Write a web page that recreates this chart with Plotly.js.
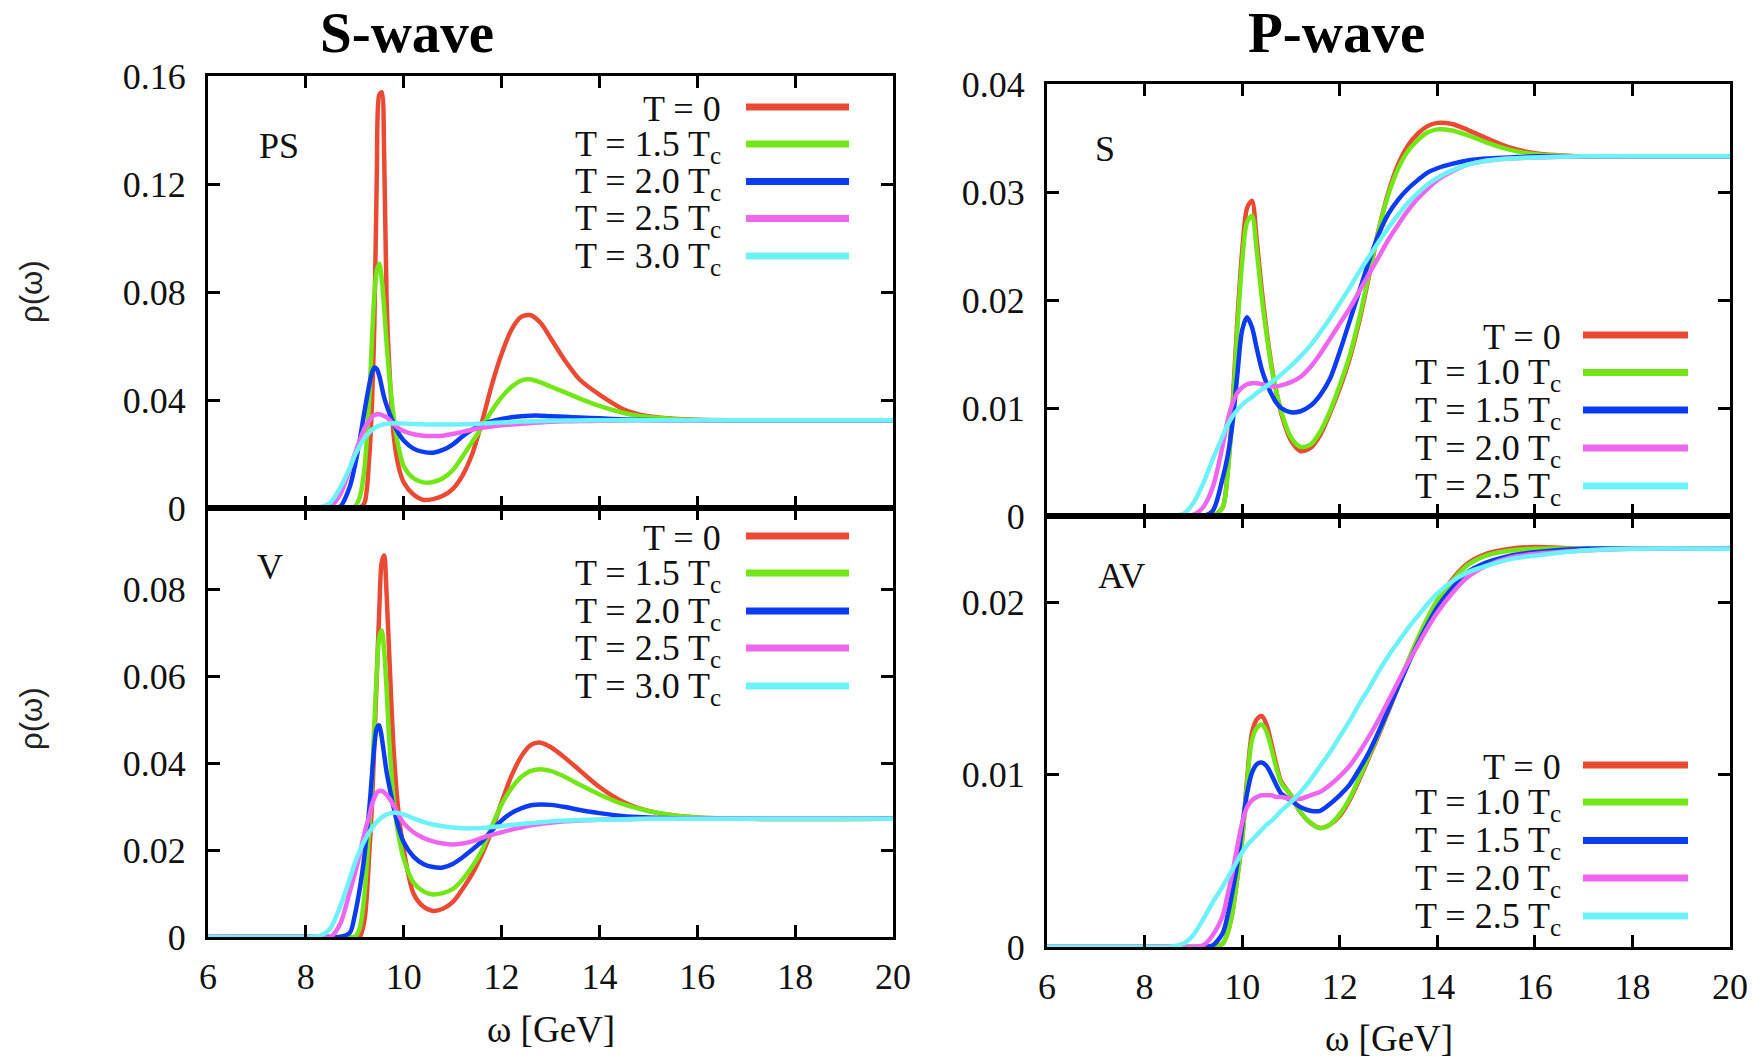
<!DOCTYPE html>
<html>
<head>
<meta charset="utf-8">
<script src="https://cdn.plot.ly/plotly-3.0.1.min.js"></script>
<style>html,body{margin:0;padding:0;background:#fff;}#chart{width:1762px;height:1061px;}</style>
</head>
<body>
<div id="chart"></div>
<script>
// ---------------- DATA ----------------
const omegaS = [6, 8, 8.3, 8.5, 8.7, 8.9, 9.0, 9.1, 9.2, 9.3, 9.35, 9.4, 9.45, 9.5, 9.55, 9.6, 9.65, 9.7, 9.8, 9.9, 10.0, 10.2, 10.4, 10.6, 10.8, 11.0, 11.2, 11.4, 11.6, 11.8, 12.0, 12.2, 12.4, 12.6, 12.8, 13.0, 13.3, 13.6, 14.0, 14.5, 15.0, 15.5, 16, 17, 20];
const omegaP = [6, 8, 8.5, 8.8, 9.0, 9.2, 9.4, 9.6, 9.7, 9.8, 9.9, 10.0, 10.1, 10.2, 10.3, 10.4, 10.5, 10.6, 10.7, 10.8, 11.0, 11.2, 11.4, 11.6, 11.8, 12.0, 12.2, 12.4, 12.6, 12.8, 13.0, 13.2, 13.4, 13.6, 13.8, 14.0, 14.3, 14.6, 15.0, 15.5, 16, 17, 18, 20];

// PS channel (S-wave)
const psT0  = [0,0,0,0,0,0, 0,0,0.002,0.02,0.038,0.068,0.123,0.153,0.154,0.131,0.077,0.054, 0.026,0.015,0.0095, 0.005,0.003,0.0033,0.0045,0.007, 0.012,0.02,0.032,0.0455,0.057, 0.066,0.0708,0.0714,0.0685,0.063, 0.0545,0.0475,0.042,0.0365,0.034, 0.0331,0.0327,0.0325,0.0325];
const psT15 = [0,0,0,0,0,0, 0.0005,0.004,0.015,0.042,0.062,0.079,0.088,0.0905,0.085,0.074,0.061,0.050, 0.033,0.022,0.0155, 0.011,0.0095,0.0096,0.011,0.014, 0.019,0.0245,0.030,0.036,0.041, 0.0448,0.0472,0.0476,0.0465,0.045, 0.0428,0.0405,0.0378,0.0352,0.0337, 0.033,0.0326,0.0325,0.0325];
const psT20 = [0,0,0,0,0.0005,0.008, 0.0155,0.025,0.036,0.046,0.050,0.052,0.0515,0.049,0.045,0.041,0.038,0.0355, 0.031,0.0275,0.025, 0.022,0.0208,0.0205,0.0215,0.0235, 0.0265,0.029,0.031,0.0322,0.033, 0.0336,0.034,0.0342,0.0342,0.034, 0.0338,0.0335,0.0332,0.0328,0.0326, 0.0325,0.0325,0.0325,0.0325];
const psT25 = [0,0,0,0.0005,0.005,0.0145, 0.020,0.025,0.0295,0.0325,0.0337,0.0344,0.0347,0.0347,0.0345,0.0341,0.0336,0.0328, 0.031,0.0295,0.0285, 0.0273,0.0268,0.0267,0.0268,0.0274, 0.0282,0.029,0.0297,0.0302,0.0306, 0.0309,0.0312,0.0315,0.0317,0.0319, 0.0321,0.0322,0.0323,0.0324,0.0325, 0.0325,0.0325,0.0325,0.0325];
const psT30 = [0,0,0.0003,0.002,0.0075,0.015, 0.0195,0.023,0.026,0.028,0.029,0.0296,0.0301,0.0305,0.0308,0.031,0.0312,0.0313, 0.0314,0.0314,0.0313, 0.0311,0.031,0.0309,0.0309,0.0309, 0.031,0.0311,0.0313,0.0315,0.0317, 0.0318,0.032,0.0321,0.0322,0.0323, 0.0324,0.0324,0.0325,0.0325,0.0325, 0.0325,0.0325,0.0325,0.0325];

// V channel (S-wave)
const vT0  = [0,0,0,0,0,0, 0,0,0.004,0.020,0.030,0.045,0.060,0.075,0.0862,0.0878,0.079,0.066, 0.042,0.028,0.020, 0.010,0.007,0.006,0.0065,0.008, 0.011,0.0145,0.019,0.0245,0.031, 0.037,0.0415,0.0442,0.0447,0.0437, 0.0412,0.0383,0.0345,0.031,0.029, 0.028,0.0275,0.0272,0.0272];
const vT15 = [0,0,0,0,0,0, 0,0.002,0.010,0.026,0.036,0.049,0.061,0.069,0.0705,0.066,0.057,0.046, 0.031,0.023,0.018, 0.0125,0.0105,0.0098,0.0101,0.011, 0.0132,0.0162,0.020,0.0255,0.0305, 0.0342,0.0368,0.0382,0.0386,0.0382, 0.0368,0.035,0.0328,0.0305,0.029, 0.028,0.0275,0.0272,0.0272];
const vT20 = [0,0,0,0,0,0.001, 0.005,0.011,0.019,0.030,0.037,0.044,0.048,0.0487,0.046,0.042,0.038,0.035, 0.0295,0.025,0.0218, 0.0185,0.0168,0.0161,0.016,0.0168, 0.0183,0.0201,0.022,0.0245,0.0268, 0.0285,0.0296,0.0303,0.0305,0.0304, 0.0299,0.0292,0.0285,0.0278,0.0275, 0.0273,0.0272,0.0272,0.0272];
const vT25 = [0,0,0,0,0.003,0.0105, 0.0145,0.019,0.024,0.028,0.0305,0.032,0.0332,0.0336,0.0336,0.0333,0.0327,0.032, 0.0302,0.028,0.0262, 0.0241,0.0228,0.022,0.0215,0.0213, 0.0215,0.022,0.0228,0.0235,0.0241, 0.0247,0.0252,0.0257,0.026,0.0263, 0.0266,0.0268,0.027,0.0271,0.0272, 0.0272,0.0272,0.0272,0.0272];
const vT30 = [0,0,0.0003,0.002,0.007,0.0135, 0.017,0.0198,0.0222,0.0242,0.025,0.0258,0.0265,0.027,0.0275,0.0279,0.0282,0.0284, 0.0286,0.0285,0.0282, 0.0273,0.0265,0.0259,0.0255,0.0252, 0.025,0.025,0.0251,0.0253,0.0255, 0.0258,0.026,0.0262,0.0264,0.0266, 0.0268,0.0269,0.027,0.0271,0.0272, 0.0272,0.0272,0.0272,0.0272];

// S channel (P-wave)
const sT0  = [0,0,0,0,0,0,0, 0.0008,0.004,0.010,0.018,0.0245, 0.0285,0.0292,0.0255,0.021,0.0172,0.014,0.0115,0.0095, 0.007,0.006,0.0063,0.0075,0.0095, 0.0118,0.0145,0.018,0.0222,0.0265, 0.030,0.0326,0.0343,0.0354,0.0361, 0.0364,0.0363,0.0358,0.035, 0.0341,0.0336,0.0333,0.0333,0.0333];
const sT10 = [0,0,0,0,0,0,0, 0.0008,0.0038,0.0095,0.0172,0.0235, 0.0272,0.0278,0.0245,0.0203,0.0168,0.0138,0.0116,0.0097, 0.0073,0.0064,0.0066,0.0078,0.0097, 0.0121,0.0148,0.0183,0.0224,0.0265, 0.0298,0.0322,0.0338,0.0348,0.0355, 0.0358,0.0357,0.0353,0.0346, 0.0339,0.0335,0.0333,0.0333,0.0333];
const sT15 = [0,0,0,0,0,0,0.0005, 0.0035,0.0055,0.0085,0.013,0.0172, 0.0184,0.0175,0.0155,0.0136,0.0123,0.0113,0.0105,0.010, 0.0096,0.0097,0.0102,0.0112,0.0127, 0.0152,0.018,0.0208,0.0236,0.0261, 0.028,0.0293,0.0303,0.0311,0.0318, 0.0322,0.0326,0.0329,0.0331, 0.0332,0.0333,0.0333,0.0333,0.0333];
const sT20 = [0,0,0,0,0.0001,0.0008,0.0027, 0.0065,0.0088,0.0104,0.0114,0.0119, 0.0122,0.0123,0.0123,0.0122,0.0121,0.012,0.012,0.0121, 0.0124,0.0129,0.0138,0.015,0.0164, 0.0178,0.0192,0.0208,0.0224,0.024, 0.0256,0.027,0.0283,0.0294,0.0303, 0.0311,0.0319,0.0325,0.0329, 0.0331,0.0332,0.0333,0.0333,0.0333];
const sT25 = [0,0,0,0.0002,0.0012,0.003,0.0053, 0.0074,0.0084,0.0092,0.0098,0.0103, 0.0107,0.011,0.0114,0.0117,0.012,0.0124,0.0127,0.0131, 0.0139,0.0148,0.0158,0.017,0.0183, 0.0197,0.0211,0.0226,0.024,0.0254, 0.0267,0.0279,0.029,0.0299,0.0307, 0.0313,0.032,0.0325,0.0329, 0.0331,0.0332,0.0333,0.0333,0.0333];

// AV channel (P-wave)
const avT0  = [0,0,0,0,0,0,0, 0.0002,0.0008,0.002,0.004,0.0062, 0.0097,0.0124,0.0132,0.0134,0.0129,0.0118,0.0106,0.0096, 0.0088,0.0078,0.0072,0.0069,0.0071, 0.0076,0.0085,0.0097,0.011,0.0123, 0.0137,0.0151,0.0165,0.0178,0.019, 0.0201,0.0213,0.0222,0.0228, 0.0231,0.0232,0.0231,0.0231,0.0231];
const avT10 = [0,0,0,0,0,0,0, 0.0002,0.0008,0.002,0.004,0.0062, 0.0095,0.012,0.0127,0.0129,0.0125,0.0115,0.0104,0.0095, 0.0088,0.0078,0.0072,0.0069,0.0071, 0.0077,0.0086,0.0098,0.0111,0.0124, 0.0138,0.0152,0.0166,0.0179,0.0191, 0.0201,0.0212,0.0221,0.0227, 0.023,0.0231,0.0231,0.0231,0.0231];
const avT15 = [0,0,0,0,0,0,0.0001, 0.0008,0.0018,0.0032,0.0048,0.007, 0.0089,0.0101,0.0106,0.0107,0.0105,0.010,0.0094,0.0089, 0.0085,0.0081,0.0079,0.0079,0.0083, 0.0088,0.0094,0.0103,0.0113,0.0125, 0.0138,0.0151,0.0164,0.0176,0.0187, 0.0197,0.0208,0.0217,0.0223, 0.0227,0.0229,0.0231,0.0231,0.0231];
const avT20 = [0,0,0,0,0,0.0001,0.0007, 0.0018,0.003,0.0043,0.0058,0.0072, 0.0081,0.0085,0.0087,0.0088,0.0088,0.0088,0.0087,0.0087, 0.0086,0.0086,0.0088,0.009,0.0094, 0.0099,0.0105,0.0113,0.0122,0.0132, 0.0143,0.0154,0.0165,0.0175,0.0185, 0.0194,0.0205,0.0214,0.0221, 0.0226,0.0228,0.023,0.0231,0.0231];
const avT25 = [0,0,0,0.0002,0.0007,0.0016,0.0026, 0.0035,0.004,0.0045,0.005,0.0055, 0.0059,0.0062,0.0065,0.0068,0.0071,0.0073,0.0076,0.0079, 0.0084,0.009,0.0097,0.0105,0.0113, 0.0122,0.0131,0.0141,0.015,0.016, 0.0169,0.0177,0.0185,0.0192,0.0199, 0.0205,0.0212,0.0217,0.0221, 0.0225,0.0227,0.023,0.0231,0.0231];

// Labels
const sWaveLabels = ["T = 0", "T = 1.5 T<sub>c</sub>", "T = 2.0 T<sub>c</sub>", "T = 2.5 T<sub>c</sub>", "T = 3.0 T<sub>c</sub>"];
const pWaveLabels = ["T = 0", "T = 1.0 T<sub>c</sub>", "T = 1.5 T<sub>c</sub>", "T = 2.0 T<sub>c</sub>", "T = 2.5 T<sub>c</sub>"];
const panelTitles = ["S-wave", "P-wave"];
const channelNames = ["PS", "V", "S", "AV"];
const xTickVals = [6, 8, 10, 12, 14, 16, 18, 20];
const psTicks = [0, 0.04, 0.08, 0.12, 0.16];
const vTicks = [0, 0.02, 0.04, 0.06, 0.08];
const sTicks = [0, 0.01, 0.02, 0.03, 0.04];
const avTicks = [0, 0.01, 0.02];

// ---------------- STYLE ----------------
const colors = ["#ea4a33", "#72e616", "#0c3cf2", "#ee66ee", "#6ef2fa"];
const W = 1762, H = 1061;
const SERIF = "Liberation Serif, Times New Roman, serif";
const px = v => v / W;
const py = v => 1 - v / H;

const panels = [
  {x: omegaS, series: [psT0, psT15, psT20, psT25, psT30], labels: sWaveLabels, xa: "x", ya: "y"},
  {x: omegaS, series: [vT0, vT15, vT20, vT25, vT30], labels: sWaveLabels, xa: "x2", ya: "y2"},
  {x: omegaP, series: [sT0, sT10, sT15, sT20, sT25], labels: pWaveLabels, xa: "x3", ya: "y3"},
  {x: omegaP, series: [avT0, avT10, avT15, avT20, avT25], labels: pWaveLabels, xa: "x4", ya: "y4"}
];

const traces = [];
panels.forEach(p => {
  p.series.forEach((s, i) => {
    traces.push({
      x: p.x, y: s, xaxis: p.xa, yaxis: p.ya, type: "scatter", mode: "lines",
      name: p.labels[i].replace(/<\/?sub>/g, ""), showlegend: false, hoverinfo: "skip",
      line: {color: colors[i], width: 4.5, shape: "spline", smoothing: 0.8}
    });
  });
});

const leftDom = [px(208), px(893)];
const rightDom = [px(1047), px(1730)];
function xaxis(dom, anchor, labels) {
  return {domain: dom, anchor: anchor, range: [6, 20], tickvals: xTickVals, showticklabels: labels,
    ticks: "inside", ticklen: 12, tickwidth: 3, tickcolor: "#000", showline: true, linecolor: "#000", linewidth: 3,
    mirror: "ticks", showgrid: false, zeroline: false, ticklabelstandoff: 6,
    tickfont: {family: SERIF, size: 36, color: "#111"}};
}
function yaxis(dom, anchor, range, ticks) {
  return {domain: dom, anchor: anchor, range: range, tickvals: ticks, ticktext: ticks.map(String),
    ticks: "inside", ticklen: 12, tickwidth: 3, tickcolor: "#000", showline: true, linecolor: "#000", linewidth: 3,
    mirror: "ticks", showgrid: false, zeroline: false, ticklabelstandoff: 12,
    tickfont: {family: SERIF, size: 36, color: "#111"}};
}

const annotations = [];
const shapes = [];
// Column titles
annotations.push({text: "<b>" + panelTitles[0] + "</b>", x: px(407), y: 1, xref: "paper", yref: "paper", showarrow: false, xanchor: "center", yanchor: "top", borderpad: 0, font: {family: SERIF, size: 57, color: "#000"}});
annotations.push({text: "<b>" + panelTitles[1] + "</b>", x: px(1336), y: 1, xref: "paper", yref: "paper", showarrow: false, xanchor: "center", yanchor: "top", borderpad: 0, font: {family: SERIF, size: 57, color: "#000"}});
// Channel labels
const chanPos = [[279, 146], [270, 567], [1105, 149], [1121, 576]];
channelNames.forEach((c, i) => annotations.push({text: c, x: px(chanPos[i][0]), y: py(chanPos[i][1]), xref: "paper", yref: "paper", showarrow: false, xanchor: "center", yanchor: "middle", font: {family: SERIF, size: 36, color: "#111"}}));
// y-axis titles
[292, 719].forEach(yy => annotations.push({text: "ρ(ω)", x: px(31), y: py(yy), xref: "paper", yref: "paper", showarrow: false, textangle: -90, xanchor: "center", yanchor: "middle", font: {family: "Liberation Sans, Arial, sans-serif", size: 31, color: "#222"}}));
// x-axis titles
annotations.push({text: "ω [GeV]", x: px(551), y: py(1029), xref: "paper", yref: "paper", showarrow: false, xanchor: "center", yanchor: "middle", font: {family: SERIF, size: 37, color: "#111"}});
annotations.push({text: "ω [GeV]", x: px(1389), y: py(1038), xref: "paper", yref: "paper", showarrow: false, xanchor: "center", yanchor: "middle", font: {family: SERIF, size: 37, color: "#111"}});

// Legends (text right-aligned, line sample to the right, as in the original)
const legendSpecs = [
  {labels: sWaveLabels, ys: [107, 144, 181.5, 218.5, 256], tx: 722, l0: 746, l1: 849},
  {labels: sWaveLabels, ys: [536, 573, 611, 648, 686], tx: 722, l0: 746, l1: 849},
  {labels: pWaveLabels, ys: [335, 372.5, 410, 448, 486], tx: 1562, l0: 1583, l1: 1688},
  {labels: pWaveLabels, ys: [765, 802, 840.5, 878, 916], tx: 1562, l0: 1583, l1: 1688}
];
legendSpecs.forEach(L => {
  L.labels.forEach((lab, i) => {
    annotations.push({text: lab, x: px(L.tx), y: py(L.ys[i] + 2), xref: "paper", yref: "paper", showarrow: false, xanchor: "right", yanchor: "middle", borderpad: 0, font: {family: SERIF, size: 36, color: "#111"}});
    shapes.push({type: "line", xref: "paper", yref: "paper", x0: px(L.l0), x1: px(L.l1), y0: py(L.ys[i]), y1: py(L.ys[i]), line: {color: colors[i], width: 7}});
  });
});

const layout = {
  width: W, height: H, margin: {l: 0, r: 0, t: 0, b: 0}, paper_bgcolor: "#fff", plot_bgcolor: "#fff",
  showlegend: false, font: {family: SERIF, color: "#111"},
  xaxis: xaxis(leftDom, "y", false),
  yaxis: yaxis([py(508), py(76)], "x", [0, 0.16], psTicks),
  xaxis2: xaxis(leftDom, "y2", true),
  yaxis2: yaxis([py(937), py(508)], "x2", [0, 0.0987], vTicks),
  xaxis3: xaxis(rightDom, "y3", false),
  yaxis3: yaxis([py(516), py(84)], "x3", [0, 0.04], sTicks),
  xaxis4: xaxis(rightDom, "y4", true),
  yaxis4: yaxis([py(947), py(516)], "x4", [0, 0.025], avTicks),
  annotations: annotations, shapes: shapes
};

Plotly.newPlot("chart", traces, layout, {staticPlot: true, displayModeBar: false});
</script>
</body>
</html>
